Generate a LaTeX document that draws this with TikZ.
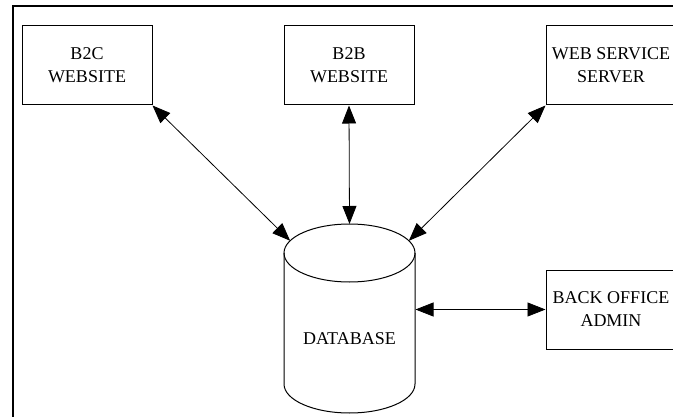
\documentclass[tikz,border=0pt]{standalone}
\usepackage{fontspec}
\setmainfont{Liberation Serif}
\usetikzlibrary{arrows.meta, calc}
\tikzset{%
	system box/.style={
		rectangle,
		draw,
		line width=1pt,
		minimum width=130pt,
		minimum height=79pt,
		align=center,
		font=\fontsize{18}{23}\selectfont
	},
	link/.style={
		{Triangle[length=18pt,width=14pt]}-{Triangle[length=18pt,width=14pt]},
		line width=0.8pt
	},
}

\begin{document}
\begin{tikzpicture}[x=1pt,y=1pt]
	\useasboundingbox (0,0) rectangle (673,416);
	% Frame
	\draw[line width=2pt] (12.5,-10) -- (12.5,409.5) -- (690,409.5);
	% Front ends
	\node[system box] (b2c) at (87,350.5) {B2C\\WEBSITE};
	\node[system box] (b2b) at (349,350.5) {B2B\\WEBSITE};
	\node[system box] (ws) at (611,350.5) {WEB SERVICE\\SERVER};
	% Back office
	\node[system box] (bo) at (611,106.5) {BACK OFFICE\\ADMIN};
	% Database
	\draw[line width=1pt] (284,163) -- (284,32)
		arc[start angle=180, end angle=360, x radius=65.5, y radius=29] -- (415,163);
	\draw[line width=1pt] (349.5,163) ellipse [x radius=65.5, y radius=29];
	\node[font=\fontsize{18}{23}\selectfont] (db) at (349.5,77) {DATABASE};
	\coordinate (db-n) at (349.5,192);
	\coordinate (db-nw) at ($(349.5,163)+(155:65.5 and 29)$);
	\coordinate (db-ne) at ($(349.5,163)+(25:65.5 and 29)$);
	\coordinate (db-e) at (415.5,106.5);
	% Links
	\draw[link] (b2c.south east) -- (db-nw);
	\draw[link] (b2b.south) -- (db-n);
	\draw[link] (ws.south west) -- (db-ne);
	\draw[link] (db-e) -- (bo.west);
\end{tikzpicture}
\end{document}
